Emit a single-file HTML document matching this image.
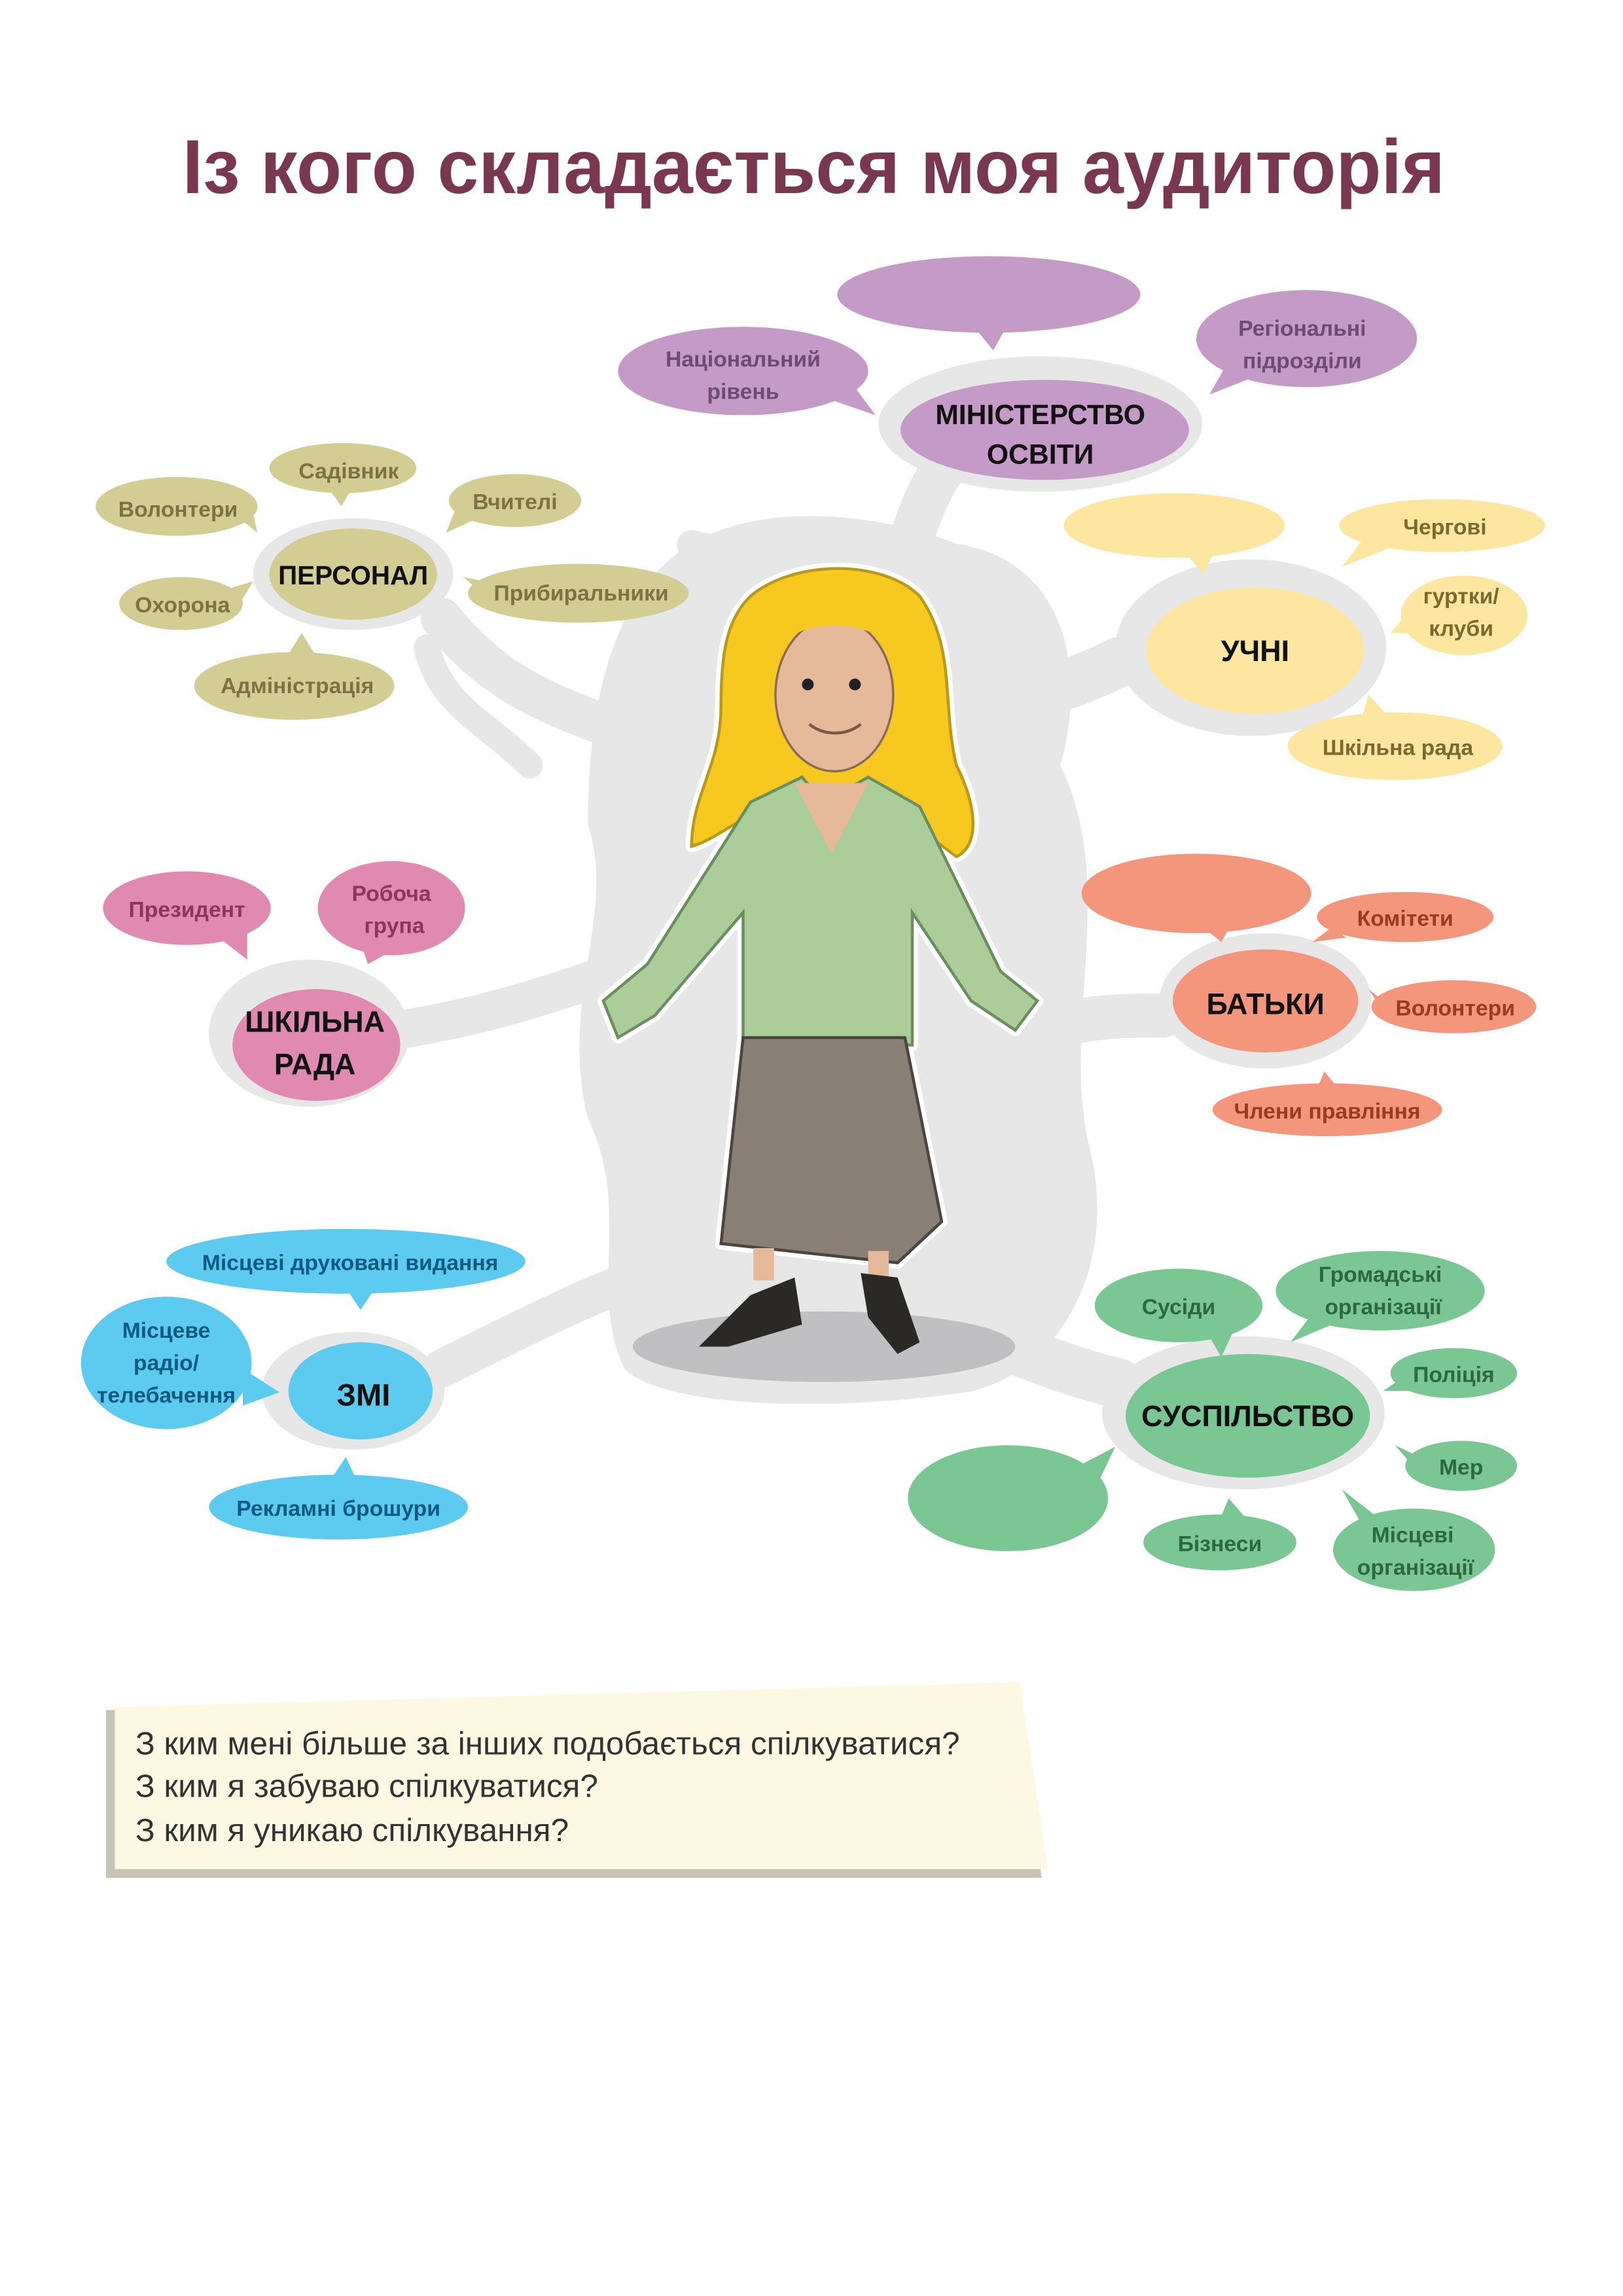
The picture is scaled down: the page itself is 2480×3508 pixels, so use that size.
<!DOCTYPE html>
<html><head><meta charset="utf-8"><style>
html,body{margin:0;padding:0;background:#fff}
svg{display:block}
text{font-family:"Liberation Sans","DejaVu Sans",sans-serif;font-weight:bold;text-anchor:middle}
</style></head><body>
<svg width="2480" height="3508" viewBox="0 0 1103 1560" xmlns="http://www.w3.org/2000/svg">
<rect width="1103" height="1560" fill="#fff"/>
<text x="553" y="131" font-size="52" fill="#7a3850" textLength="858" lengthAdjust="spacingAndGlyphs">Із кого складається моя аудиторія</text>

<g fill="#e7e7e8" stroke="#e7e7e8" stroke-linecap="round" stroke-linejoin="round">
<path d="M470 370 C520 340 600 350 650 370 C720 380 740 450 720 520 C760 600 720 700 740 780 C760 860 720 930 660 945 C560 960 450 955 425 930 C400 880 430 820 400 760 C380 680 420 620 400 560 C400 470 420 400 470 370Z"/>
<path d="M640 320 C620 350 620 380 600 400" stroke-width="30" fill="none"/>
<path d="M300 420 C340 470 380 480 430 500" stroke-width="28" fill="none"/>
<path d="M290 440 C300 480 330 490 360 520" stroke-width="18" fill="none"/>
<path d="M760 450 C720 470 700 470 680 480" stroke-width="34" fill="none"/>
<path d="M270 700 C330 690 360 680 420 660" stroke-width="26" fill="none"/>
<path d="M790 690 C760 690 740 690 710 700" stroke-width="30" fill="none"/>
<path d="M300 930 C360 900 400 880 430 870" stroke-width="26" fill="none"/>
<path d="M760 940 C720 930 700 920 670 910" stroke-width="34" fill="none"/>
<path d="M600 390 C560 380 510 380 470 370" stroke-width="20" fill="none"/>
<ellipse cx="707" cy="288" rx="110" ry="46" stroke="none"/>
<ellipse cx="240" cy="390" rx="68" ry="38" stroke="none"/>
<ellipse cx="850" cy="440" rx="92" ry="60" stroke="none"/>
<ellipse cx="210" cy="702" rx="68" ry="50" stroke="none"/>
<ellipse cx="860" cy="680" rx="72" ry="46" stroke="none"/>
<ellipse cx="240" cy="945" rx="62" ry="40" stroke="none"/>
<ellipse cx="845" cy="960" rx="96" ry="52" stroke="none"/>
</g>

<g fill="#c49ac6">
<ellipse cx="672" cy="200" rx="103" ry="26"/><path d="M662 222 L675 238 L684 222Z"/>
<ellipse cx="505" cy="252" rx="85" ry="30"/><path d="M560 270 L595 282 L575 255Z"/>
<ellipse cx="888" cy="230" rx="75" ry="33"/><path d="M835 245 L822 268 L855 255Z"/>
<ellipse cx="710" cy="292" rx="98" ry="34"/>
</g>
<g fill="#6e4c70" font-size="15">
<text x="505" y="249">Національний</text><text x="505" y="271">рівень</text>
<text x="885" y="228">Регіональні</text><text x="885" y="250">підрозділи</text>
</g>
<text x="707" y="288" font-size="19" fill="#111">МІНІСТЕРСТВО</text>
<text x="707" y="315" font-size="19" fill="#111">ОСВІТИ</text>

<g fill="#d3cc93">
<ellipse cx="240" cy="390" rx="57" ry="31"/>
<ellipse cx="233" cy="318" rx="50" ry="17"/><path d="M222 330 L232 344 L240 330Z"/>
<ellipse cx="120" cy="344" rx="55" ry="20"/><path d="M160 350 L175 362 L170 340Z"/>
<ellipse cx="350" cy="340" rx="45" ry="18"/><path d="M310 345 L303 362 L325 352Z"/>
<ellipse cx="123" cy="410" rx="42" ry="18"/><path d="M155 400 L172 395 L160 415Z"/>
<ellipse cx="393" cy="403" rx="75" ry="20"/><path d="M330 395 L315 392 L335 410Z"/>
<ellipse cx="200" cy="466" rx="68" ry="23"/><path d="M195 446 L205 430 L215 446Z"/>
</g>
<g fill="#7a7443" font-size="15">
<text x="237" y="325">Садівник</text><text x="121" y="351">Волонтери</text>
<text x="350" y="346">Вчителі</text><text x="124" y="416">Охорона</text>
<text x="395" y="408">Прибиральники</text><text x="202" y="471">Адміністрація</text>
</g>
<text x="240" y="397" font-size="18" fill="#111">ПЕРСОНАЛ</text>

<g fill="#fde6a0">
<ellipse cx="853" cy="442" rx="74" ry="43"/>
<ellipse cx="798" cy="357" rx="75" ry="22"/><path d="M805 375 L818 390 L825 375Z"/>
<ellipse cx="980" cy="357" rx="70" ry="18"/><path d="M925 368 L912 385 L945 372Z"/>
<ellipse cx="995" cy="418" rx="43" ry="27"/><path d="M958 415 L945 430 L962 430Z"/>
<ellipse cx="948" cy="507" rx="73" ry="23"/><path d="M925 490 L930 472 L945 488Z"/>
</g>
<g fill="#7a6a30" font-size="15">
<text x="982" y="363">Чергові</text><text x="993" y="410">гуртки/</text><text x="993" y="432">клуби</text>
<text x="950" y="513">Шкільна рада</text>
</g>
<text x="853" y="449" font-size="20" fill="#111">УЧНІ</text>

<g fill="#e089b1">
<ellipse cx="215" cy="710" rx="57" ry="38"/>
<ellipse cx="127" cy="617" rx="57" ry="25"/><path d="M150 638 L168 652 L168 632Z"/>
<ellipse cx="266" cy="617" rx="50" ry="32"/><path d="M245 640 L250 655 L268 645Z"/>
</g>
<g fill="#8b3660" font-size="15">
<text x="127" y="623">Президент</text><text x="266" y="612">Робоча</text><text x="268" y="634">група</text>
</g>
<text x="214" y="701" font-size="20" fill="#111">ШКІЛЬНА</text>
<text x="214" y="730" font-size="20" fill="#111">РАДА</text>

<g fill="#f4967b">
<ellipse cx="860" cy="680" rx="63" ry="35"/>
<ellipse cx="813" cy="607" rx="78" ry="27"/><path d="M815 628 L830 640 L838 626Z"/>
<ellipse cx="955" cy="623" rx="60" ry="17"/><path d="M905 630 L892 640 L915 637Z"/>
<ellipse cx="988" cy="684" rx="56" ry="18"/><path d="M940 680 L930 672 L945 695Z"/>
<ellipse cx="902" cy="754" rx="78" ry="18"/><path d="M895 740 L900 728 L910 740Z"/>
</g>
<g fill="#9a3a20" font-size="15">
<text x="955" y="629">Комітети</text><text x="989" y="690">Волонтери</text><text x="902" y="760">Члени правління</text>
</g>
<text x="860" y="689" font-size="20" fill="#111">БАТЬКИ</text>

<g fill="#5ccbef">
<ellipse cx="245" cy="945" rx="49" ry="33"/>
<ellipse cx="235" cy="857" rx="122" ry="22"/><path d="M235 875 L245 890 L255 875Z"/>
<ellipse cx="113" cy="926" rx="58" ry="45"/><path d="M165 930 L190 946 L165 955Z"/>
<ellipse cx="230" cy="1024" rx="88" ry="22"/><path d="M225 1005 L235 990 L242 1005Z"/>
</g>
<g fill="#0e5a80" font-size="15">
<text x="238" y="863">Місцеві друковані видання</text>
<text x="113" y="909">Місцеве</text><text x="113" y="931">радіо/</text><text x="113" y="953">телебачення</text>
<text x="230" y="1030">Рекламні брошури</text>
</g>
<text x="247" y="955" font-size="21" fill="#111">ЗМІ</text>

<g fill="#7ac794">
<ellipse cx="848" cy="962" rx="83" ry="42"/>
<ellipse cx="801" cy="887" rx="57" ry="25"/><path d="M820 905 L830 922 L838 905Z"/>
<ellipse cx="938" cy="877" rx="71" ry="27"/><path d="M890 895 L877 912 L905 900Z"/>
<ellipse cx="988" cy="933" rx="43" ry="17"/><path d="M955 935 L940 945 L960 945Z"/>
<ellipse cx="993" cy="996" rx="38" ry="17"/><path d="M965 990 L948 982 L968 1005Z"/>
<ellipse cx="829" cy="1048" rx="52" ry="19"/><path d="M830 1030 L835 1018 L848 1033Z"/>
<ellipse cx="961" cy="1053" rx="55" ry="28"/><path d="M925 1035 L912 1012 L935 1030Z"/>
<ellipse cx="685" cy="1018" rx="68" ry="36"/><path d="M735 995 L758 983 L745 1010Z"/>
</g>
<g fill="#2c6a3e" font-size="15">
<text x="801" y="893">Сусіди</text><text x="938" y="871">Громадські</text><text x="940" y="893">організації</text>
<text x="988" y="939">Поліція</text><text x="993" y="1002">Мер</text><text x="829" y="1054">Бізнеси</text>
<text x="960" y="1048">Місцеві</text><text x="962" y="1070">організації</text>
</g>
<text x="848" y="969" font-size="20" fill="#111">СУСПІЛЬСТВО</text>

<ellipse cx="560" cy="915" rx="130" ry="24" fill="#c0bfc1"/>
<g stroke="#fff" stroke-width="8" stroke-linejoin="round" fill="#fff">
<path d="M510 405 C540 380 600 380 625 405 C650 440 640 480 650 520 C665 550 665 575 650 582 C620 560 600 540 560 535 C520 540 490 570 470 575 C470 540 490 520 490 480 C490 440 495 420 510 405Z"/>
<path d="M410 680 L440 655 L510 545 L545 528 L560 545 L590 528 L625 548 L680 660 L705 680 L690 700 L660 680 L620 620 L620 710 L505 710 L505 620 L445 690 L420 705Z"/>
<path d="M505 705 L615 705 L640 830 L610 858 L490 845 Z"/>
</g>
<path d="M510 405 C540 380 600 380 625 405 C650 440 640 480 650 520 C665 550 665 575 650 582 C620 560 600 540 560 535 C520 540 490 570 470 575 C470 540 490 520 490 480 C490 440 495 420 510 405Z" fill="#f7c820" stroke="#b89a1a" stroke-width="2"/>
<ellipse cx="567" cy="472" rx="40" ry="52" fill="#e6b99a" stroke="#8a6a55" stroke-width="1.5"/>
<path d="M527 440 C545 420 590 420 607 440 L607 425 C590 405 545 405 527 425Z" fill="#f7c820"/>
<circle cx="549" cy="465" r="4" fill="#222"/><circle cx="581" cy="465" r="4" fill="#222"/>
<path d="M550 492 C560 500 575 500 585 492" stroke="#7a5a45" stroke-width="2" fill="none"/>
<path d="M410 680 L440 655 L510 545 L545 528 L560 545 L590 528 L625 548 L680 660 L705 680 L690 700 L660 680 L620 620 L620 710 L505 710 L505 620 L445 690 L420 705Z" fill="#aacd99" stroke="#6b8e5f" stroke-width="2"/>
<path d="M540 532 L565 580 L590 532Z" fill="#e6b99a"/>
<path d="M505 705 L615 705 L640 830 L610 858 L490 845 Z" fill="#8a7f74" stroke="#4a4540" stroke-width="2"/>
<rect x="512" y="848" width="14" height="22" fill="#e6b99a"/><rect x="590" y="850" width="14" height="20" fill="#e6b99a"/>
<path d="M475 915 L510 880 L540 868 L545 900 L495 915Z" fill="#2b2925"/>
<path d="M585 865 L610 868 L625 912 L610 920 L590 895Z" fill="#2b2925"/>

<path d="M72 1162 L690 1147 L708 1276 L72 1276Z" fill="#c8c5b8"/>
<path d="M78 1160 L693 1143 L712 1270 L78 1270Z" fill="#fdf8e1"/>
<text x="92" y="1192" font-size="22" fill="#333" style="text-anchor:start;font-weight:normal">З ким мені більше за інших подобається спілкуватися?</text>
<text x="92" y="1221" font-size="22" fill="#333" style="text-anchor:start;font-weight:normal">З ким я забуваю спілкуватися?</text>
<text x="92" y="1251" font-size="22" fill="#333" style="text-anchor:start;font-weight:normal">З ким я уникаю спілкування?</text>
</svg>
</body></html>
